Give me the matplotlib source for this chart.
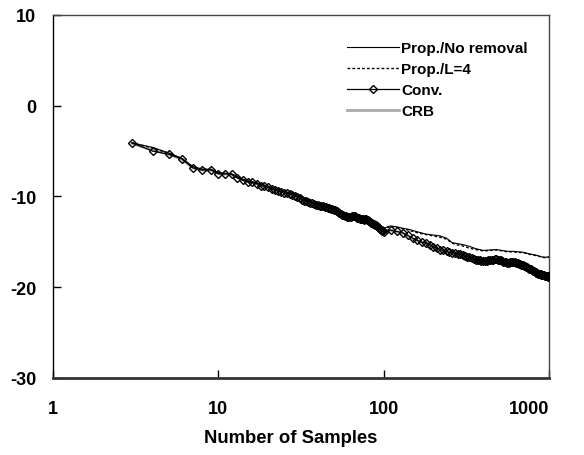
import numpy as np
import matplotlib
matplotlib.use("Agg")
import matplotlib.pyplot as plt

plt.rcParams['font.family'] = ['Liberation Sans', 'DejaVu Sans']
plt.rcParams['font.weight'] = 'bold'
plt.rcParams['axes.unicode_minus'] = False

# Conv. : every sample count from 3 to 100, then every 10 up to 1000
n_conv = list(range(3, 101)) + list(range(110, 1001, 10))
conv = [-4.1, -5.0, -5.35, -5.85, -6.85, -7.1, -7.05, -7.5, -7.5, -7.55,
        -7.95, -8.2, -8.4, -8.45, -8.6, -8.8, -8.9, -9.0, -9.2, -9.3,
        -9.45, -9.55, -9.6, -9.65, -9.7, -9.8, -9.95, -10.05, -10.2, -10.35,
        -10.45, -10.55, -10.6, -10.7, -10.75, -10.85, -10.9, -10.95, -11.0, -11.05,
        -11.1, -11.15, -11.2, -11.25, -11.3, -11.35, -11.4, -11.45, -11.5, -11.6,
        -11.7, -11.8, -11.9, -12.0, -12.05, -12.1, -12.2, -12.25, -12.3, -12.3,
        -12.25, -12.2, -12.15, -12.15, -12.2, -12.3, -12.35, -12.4, -12.4, -12.45,
        -12.5, -12.5, -12.5, -12.55, -12.5, -12.5, -12.55, -12.6, -12.7, -12.75,
        -12.8, -12.9, -12.95, -13.0, -13.05, -13.1, -13.15, -13.2, -13.25, -13.35,
        -13.4, -13.5, -13.55, -13.65, -13.7, -13.8, -13.85, -13.9,
        -13.7, -13.85, -14.0, -14.3, -14.6, -14.85, -15.05, -15.1, -15.3, -15.55,
        -15.7, -15.85, -15.95, -16.05, -16.15, -16.2, -16.25, -16.3, -16.35, -16.45,
        -16.55, -16.65, -16.7, -16.8, -16.9, -16.95, -17.0, -17.05, -17.1, -17.1,
        -17.1, -17.1, -17.05, -17.05, -17.0, -16.95, -16.9, -16.9, -16.95, -17.0,
        -17.05, -17.1, -17.2, -17.25, -17.25, -17.3, -17.3, -17.25, -17.2, -17.2,
        -17.25, -17.25, -17.3, -17.3, -17.35, -17.4, -17.45, -17.5, -17.55, -17.6,
        -17.65, -17.7, -17.75, -17.8, -17.9, -17.95, -18.0, -18.05, -18.1, -18.2,
        -18.25, -18.3, -18.35, -18.4, -18.45, -18.5, -18.5, -18.55, -18.6, -18.65,
        -18.65, -18.7, -18.7, -18.75, -18.75, -18.8, -18.8, -18.8, -18.85, -18.8]

n_prop = [3, 4, 5, 6, 7, 8, 9, 10, 12, 14, 17, 20, 24, 28, 33, 40, 50, 60, 70, 80,
          90, 100, 110, 120, 130, 140, 150, 160, 180, 200, 220, 240, 260, 280, 300,
          330, 360, 400, 440, 480, 520, 560, 600, 650, 700, 750, 800, 850, 900, 950, 1000]
prop_norem = [-4.1, -4.6, -5.2, -5.8, -6.7, -7.0, -7.0, -7.4, -7.5, -8.1,
              -8.5, -8.9, -9.4, -9.7, -10.3, -10.85, -11.35, -12.1, -12.3, -12.5,
              -13.0, -13.5, -13.25, -13.35, -13.5, -13.6, -13.75, -13.9, -14.15, -14.25,
              -14.35, -14.6, -15.1, -15.2, -15.3, -15.5, -15.75, -15.95, -15.9, -15.85,
              -15.95, -16.05, -16.05, -16.1, -16.15, -16.3, -16.4, -16.5, -16.65, -16.7, -16.65]
prop_l4 = [-4.1, -4.65, -5.25, -5.8, -6.75, -7.0, -7.05, -7.45, -7.55, -8.15,
           -8.5, -8.95, -9.45, -9.75, -10.35, -10.9, -11.4, -12.15, -12.3, -12.55,
           -13.05, -13.55, -13.3, -13.4, -13.55, -13.7, -13.85, -14.0, -14.2, -14.35,
           -14.5, -14.7, -15.15, -15.35, -15.45, -15.7, -15.85, -16.0, -15.95, -15.9,
           -16.0, -16.1, -16.1, -16.15, -16.2, -16.35, -16.45, -16.55, -16.7, -16.75, -16.7]
crb = [-4.15, -4.9, -5.35, -5.9, -6.85, -7.1, -7.1, -7.5, -7.6, -8.2,
       -8.6, -9.0, -9.55, -9.8, -10.45, -10.95, -11.45, -12.25, -12.4, -12.6,
       -13.2, -13.9, -13.75, -13.9, -14.05, -14.35, -14.65, -14.9, -15.15, -15.6,
       -15.9, -16.1, -16.25, -16.35, -16.5, -16.75, -17.0, -17.15, -17.1, -16.95,
       -17.1, -17.3, -17.25, -17.4, -17.65, -17.95, -18.25, -18.5, -18.7, -18.8, -18.85]

fig = plt.figure(figsize=(5.84, 4.56), dpi=100)
ax = fig.add_axes([0.091, 0.169, 0.849, 0.796])

ax.plot(n_prop, prop_norem, '-', color='black', lw=0.8, label='Prop./No removal', zorder=3)
ax.plot(n_prop, prop_l4, linestyle=(0, (2, 1.5)), color='black', lw=1.0, label='Prop./L=4', zorder=3)
ax.plot(n_conv, conv, '-', color='black', lw=0.9, marker='D', markersize=4.3,
        markerfacecolor='none', markeredgecolor='black', markeredgewidth=1.0,
        label='Conv.', zorder=4)
ax.plot(n_prop, crb, '-', color='#aaaaaa', lw=2.0, label='CRB', zorder=2)

ax.set_xscale('log')
ax.set_xlim(1, 1000)
ax.set_ylim(-30, 10)
ax.set_xticks([1, 10, 100, 1000])
ax.set_xticklabels(['1', '10', '100', '1000'])
ax.get_xticklabels()[-1].set_horizontalalignment('right')
ax.set_yticks([10, 0, -10, -20, -30])
ax.xaxis.set_minor_locator(matplotlib.ticker.NullLocator())
ax.tick_params(direction='in', length=6, width=1, labelsize=13)
ax.tick_params(axis='x', pad=16)
ax.tick_params(axis='y', pad=12)
ax.set_xlabel('Number of Samples', fontsize=13.3, fontweight='bold')
ax.xaxis.set_label_coords(0.48, -0.14)

for s in ['top', 'right']:
    ax.spines[s].set_color('#444444')
    ax.spines[s].set_linewidth(1)
ax.spines['bottom'].set_color('#333333')
ax.spines['bottom'].set_linewidth(2)
ax.spines['left'].set_linewidth(1)

ax.legend(loc='upper right', frameon=False, fontsize=11, handlelength=3.4,
          handletextpad=0.15, labelspacing=0.45, bbox_to_anchor=(0.985, 0.965))

fig.savefig('out.png', dpi=100)
